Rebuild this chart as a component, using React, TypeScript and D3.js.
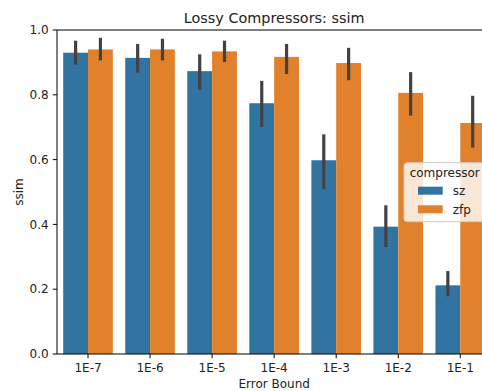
import * as d3 from 'd3';
import React from 'react';

const categories = ['1E-7', '1E-6', '1E-5', '1E-4', '1E-3', '1E-2', '1E-1'];
const compressors = ['sz', 'zfp'];
const szMean = [0.930, 0.914, 0.873, 0.774, 0.598, 0.393, 0.212];
const szLow = [0.893, 0.868, 0.815, 0.701, 0.509, 0.330, 0.178];
const szHigh = [0.967, 0.957, 0.925, 0.843, 0.678, 0.459, 0.256];
const zfpMean = [0.940, 0.940, 0.934, 0.917, 0.898, 0.806, 0.713];
const zfpLow = [0.906, 0.906, 0.901, 0.864, 0.845, 0.736, 0.637];
const zfpHigh = [0.976, 0.973, 0.967, 0.957, 0.945, 0.870, 0.797];
const yTicks = [0, 0.2, 0.4, 0.6, 0.8, 1.0];

const colors: Record<string, string> = { sz: '#3274a1', zfp: '#e1812c' };
const font = 'DejaVu Sans, sans-serif';

const W = 482, H = 391;
const margin = { left: 57, right: 491.3, top: 30, bottom: 354 };

const App: React.FC = () => {
  const x = d3.scaleBand<string>()
    .domain(categories)
    .range([margin.left, margin.right])
    .paddingInner(0.2)
    .paddingOuter(0.1);
  const hue = d3.scaleBand<string>()
    .domain(compressors)
    .range([0, x.bandwidth()]);
  const y = d3.scaleLinear().domain([0, 1]).range([margin.bottom, margin.top]);

  const series = [
    { key: 'sz', mean: szMean, low: szLow, high: szHigh },
    { key: 'zfp', mean: zfpMean, low: zfpLow, high: zfpHigh },
  ];

  const mid = (margin.left + margin.right) / 2;

  return (
    <svg width={W} height={H} style={{ position: 'fixed', left: 0, top: 0, background: '#fff' }}
      fontFamily={font}>
      <rect width={W} height={H} fill="#fff" />
      {series.map(s => (
        <g key={s.key}>
          {categories.map((c, i) => (
            <rect key={c}
              x={(x(c) ?? 0) + (hue(s.key) ?? 0)}
              y={y(s.mean[i])}
              width={hue.bandwidth()}
              height={y(0) - y(s.mean[i])}
              fill={colors[s.key]} />
          ))}
        </g>
      ))}
      {series.map(s => (
        <g key={s.key + '-err'}>
          {categories.map((c, i) => {
            const cx = (x(c) ?? 0) + (hue(s.key) ?? 0) + hue.bandwidth() / 2;
            return <line key={c} x1={cx} x2={cx} y1={y(s.low[i])} y2={y(s.high[i])}
              stroke="#424242" strokeWidth={3.2} />;
          })}
        </g>
      ))}
      {/* spines */}
      <line x1={margin.left} x2={margin.left} y1={margin.top} y2={margin.bottom} stroke="#000" strokeWidth={1} />
      <line x1={margin.left} x2={W} y1={margin.bottom} y2={margin.bottom} stroke="#000" strokeWidth={1} />
      <line x1={margin.left} x2={W} y1={margin.top} y2={margin.top} stroke="#000" strokeWidth={1} />
      {/* y ticks */}
      {yTicks.map(t => (
        <g key={t} transform={`translate(0,${y(t)})`}>
          <line x1={margin.left - 4.2} x2={margin.left} stroke="#000" strokeWidth={1} />
          <text x={margin.left - 8.4} dy="0.35em" textAnchor="end" fontSize={12} fill="#222">{t.toFixed(1)}</text>
        </g>
      ))}
      {/* x ticks */}
      {categories.map(c => {
        const cx = (x(c) ?? 0) + x.bandwidth() / 2;
        return (
          <g key={c} transform={`translate(${cx},${margin.bottom})`}>
            <line y1={0} y2={4.2} stroke="#000" strokeWidth={1} />
            <text y={18} textAnchor="middle" fontSize={12} fill="#222">{c}</text>
          </g>
        );
      })}
      <text x={mid} y={22.5} textAnchor="middle" fontSize={14.4} fill="#222">Lossy Compressors: ssim</text>
      <text x={mid} y={388} textAnchor="middle" fontSize={12} fill="#222">Error Bound</text>
      <text transform={`translate(22.5,${(margin.top + margin.bottom) / 2}) rotate(-90)`}
        textAnchor="middle" fontSize={12} fill="#222">ssim</text>
      {/* legend */}
      <g>
        <rect x={404} y={162.7} width={81} height={59} rx={3} fill="#fff" fillOpacity={0.8} stroke="#ccc" strokeWidth={1} />
        <text x={444.7} y={176.5} textAnchor="middle" fontSize={12} fill="#222">compressor</text>
        {compressors.map((k, i) => (
          <g key={k} transform={`translate(0,${190.7 + i * 18.6})`}>
            <rect x={418} y={-4} width={24.7} height={8} fill={colors[k]} />
            <text x={452.7} dy="0.35em" fontSize={12} fill="#222">{k}</text>
          </g>
        ))}
      </g>
    </svg>
  );
};

export default App;
